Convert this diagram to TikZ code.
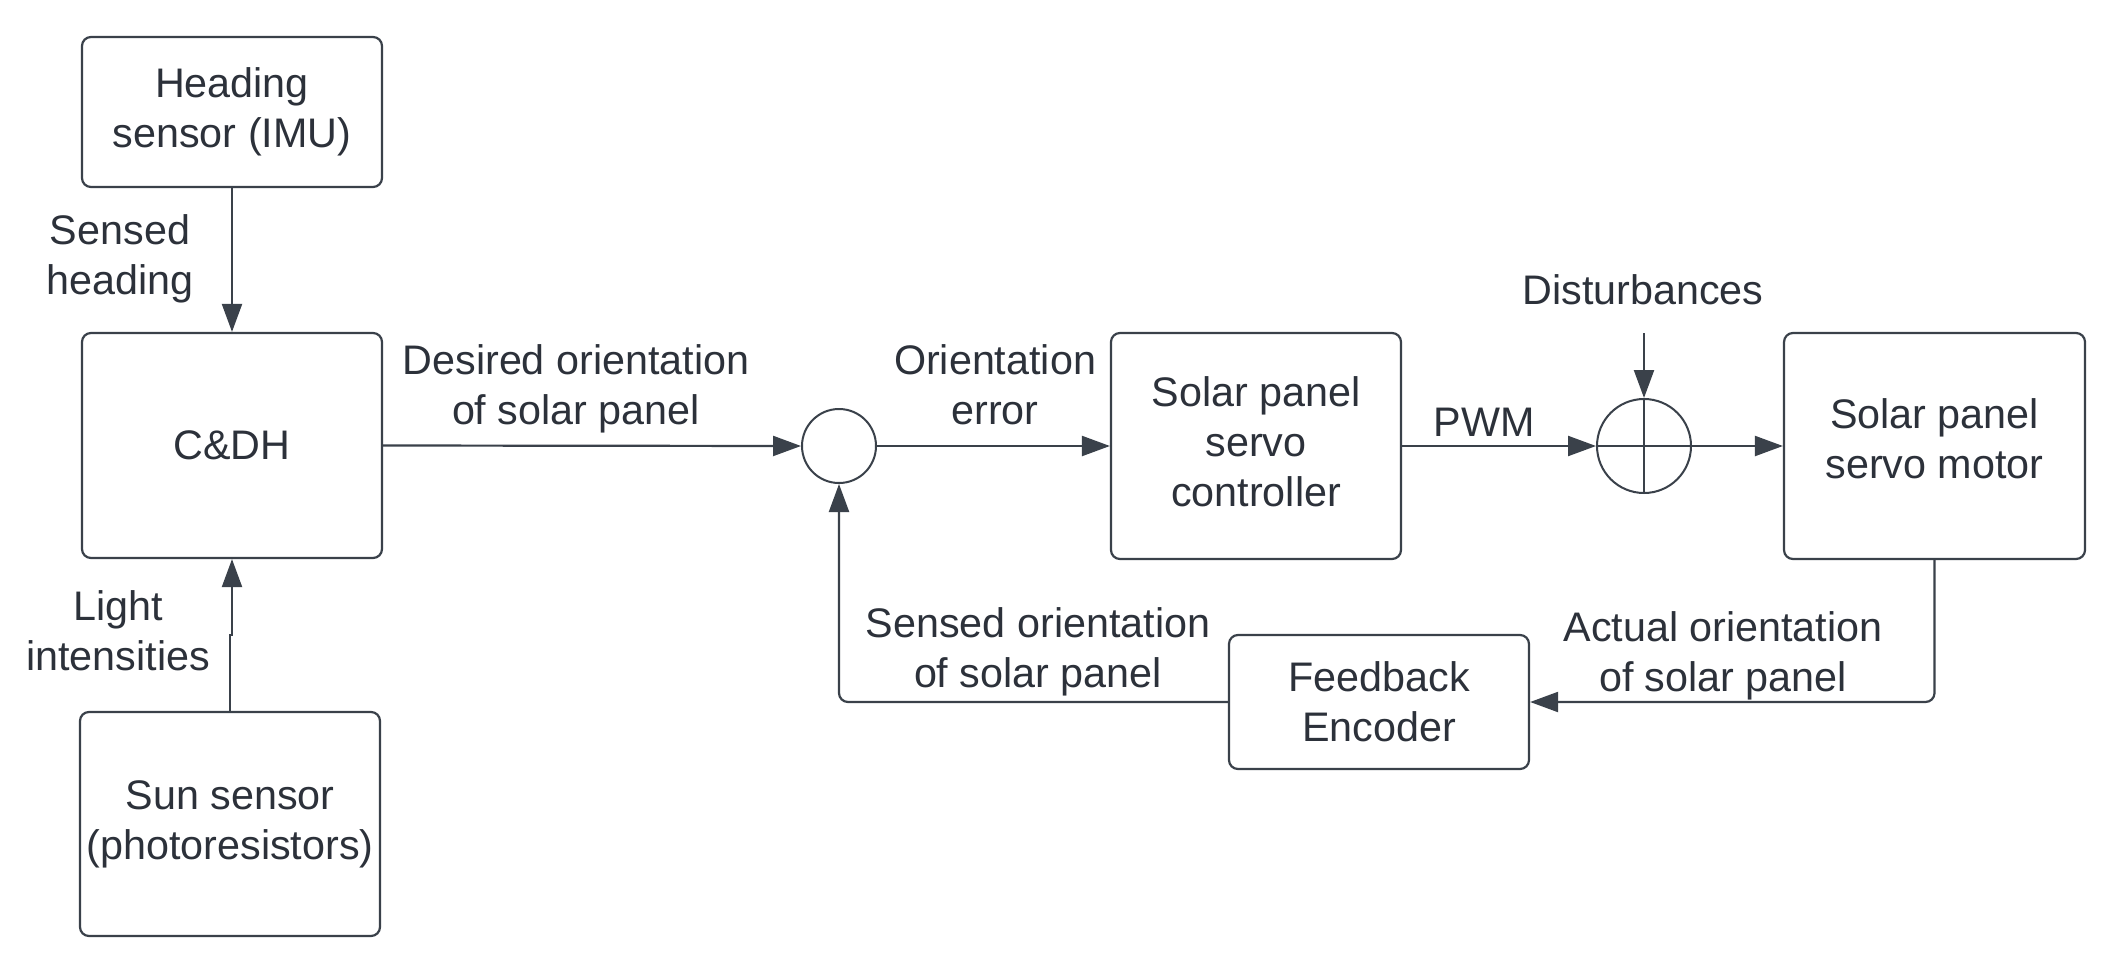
\documentclass[tikz,border=0pt]{standalone}
\usepackage{fontspec}
\setmainfont{Liberation Sans}
\usetikzlibrary{arrows.meta}
\definecolor{ln}{RGB}{58,65,74}
\definecolor{tx}{RGB}{44,49,58}
\begin{document}
\begin{tikzpicture}[x=1pt,y=-1pt,
  every node/.style={text=tx,font=\fontsize{41.3}{50}\selectfont},
  blk/.style={draw=ln,line width=2.2pt,rounded corners=9pt,align=center,inner sep=0pt},
  sumc/.style={draw=ln,line width=2pt,circle,inner sep=0pt},
  lbl/.style={align=center,inner sep=0pt},
  arr/.style={draw=ln,line width=2.2pt,-{Triangle[length=28pt,width=20pt]}},
  plain/.style={draw=ln,line width=2.2pt}]
\useasboundingbox (0,0) rectangle (2119,977);
\fill[white] (0,0) rectangle (2119,977);
\node[blk,minimum width=300pt,minimum height=150pt] (head) at (232,112) {Heading\\sensor (IMU)};
\node[blk,minimum width=300pt,minimum height=225pt] (cdh) at (232,445.5) {C\&DH};
\node[blk,minimum width=300pt,minimum height=224pt] (sun) at (230,824) {Sun sensor\\(photoresistors)};
\node[sumc,minimum size=74pt] (s1) at (839,446) {};
\node[blk,minimum width=290pt,minimum height=226pt] (ctrl) at (1256,446) {};
\node[lbl] (ctrlt) at (1256,442) {Solar panel\\servo\\controller};
\node[sumc,minimum size=94pt] (s2) at (1644,446) {};
\node[blk,minimum width=301pt,minimum height=226pt] (motor) at (1934.5,446) {};
\node[lbl] (motort) at (1934.5,439) {Solar panel\\servo motor};
\node[blk,minimum width=300pt,minimum height=134pt] (fe) at (1379,702) {Feedback\\Encoder};
\coordinate (dist) at (1644,333);

\draw[draw=ln,line width=2pt] (s2.north) -- (s2.south) (s2.west) -- (s2.east);

\node[lbl] (l1) at (120,259) {Sensed\\heading};
\node[lbl] (l2) at (118,631) {Light\\intensities};
\node[lbl] (l3) at (576,389) {Desired orientation\\of solar panel};
\node[lbl] (l4) at (995,385) {Orientation\\error};
\node[lbl] (l5) at (1484,422) {PWM};
\node[lbl] (l6) at (1643,290) {Disturbances};
\node[lbl] (l7) at (1038,652) {Sensed orientation\\of solar panel};
\node[lbl] (l8) at (1723,656) {Actual orientation\\of solar panel};

\draw[arr] (head.south) -- (cdh.north);
\draw[arr] (sun.north) -- ++(0,-76) -| (cdh.south);
\draw[arr] (cdh.east) -- (s1.west);
\draw[arr] (s1.east) -- (ctrl.west);
\draw[arr] (ctrl.east) -- (s2.west);
\draw[arr] (s2.east) -- (motor.west);
\draw[arr] (dist) -- (s2.north);
\draw[arr,rounded corners=9pt] (motor.south) |- (fe.east);
\draw[arr,rounded corners=9pt] (fe.west) -| (s1.south);
\end{tikzpicture}
\end{document}
